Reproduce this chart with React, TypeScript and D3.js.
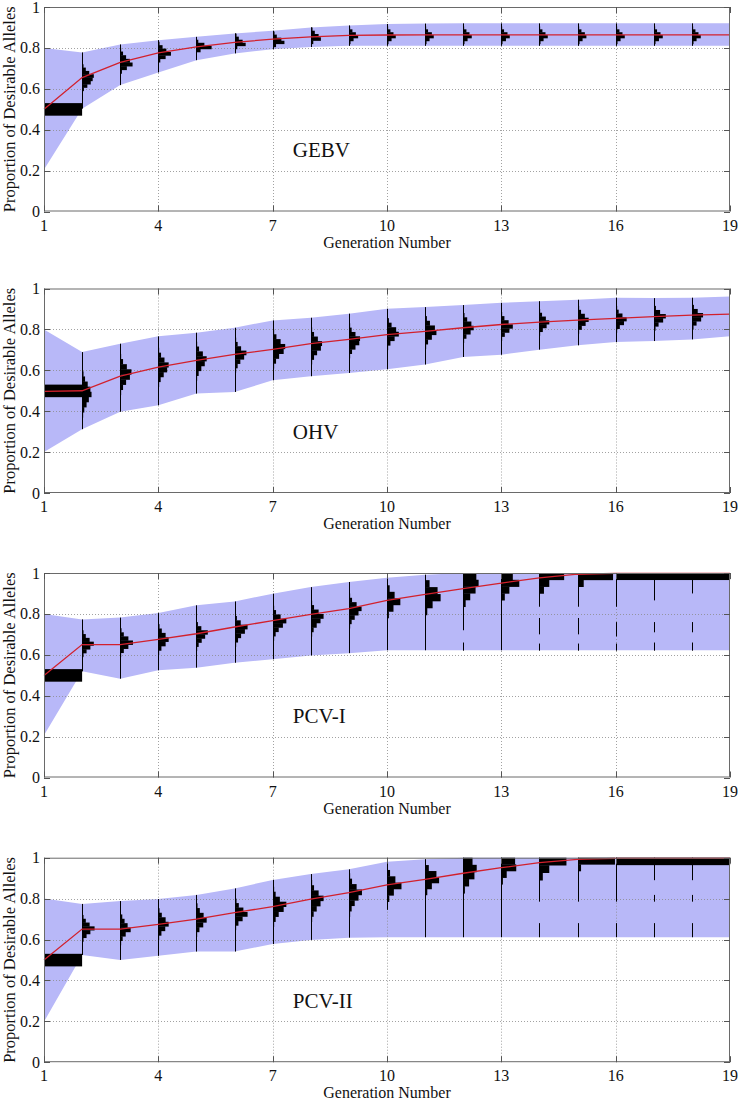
import React from 'react';
import * as d3 from 'd3';

const generations = [1, 2, 3, 4, 5, 6, 7, 8, 9, 10, 11, 12, 13, 14, 15, 16, 17, 18, 19];
const xTicks = [1, 4, 7, 10, 13, 16, 19];
const yTicks = [0, 0.2, 0.4, 0.6, 0.8, 1];
const yTickLabels = ['0', '0.2', '0.4', '0.6', '0.8', '1'];
const panelNames = ['GEBV', 'OHV', 'PCV-I', 'PCV-II'];
const xLabel = 'Generation Number';
const yLabel = 'Proportion of Desirable Alleles';

type Hist = { lo: number; hi: number; f: number[] };

// ---------- GEBV ----------
const gebvMean = [0.5, 0.655, 0.729, 0.776, 0.805, 0.827, 0.843, 0.854, 0.861, 0.863, 0.864, 0.864, 0.864, 0.864, 0.864, 0.864, 0.864, 0.864, 0.864];
const gebvUpper = [0.8, 0.778, 0.817, 0.838, 0.854, 0.871, 0.884, 0.9, 0.91, 0.917, 0.919, 0.92, 0.92, 0.92, 0.92, 0.92, 0.92, 0.92, 0.92];
const gebvLower = [0.205, 0.503, 0.618, 0.68, 0.74, 0.773, 0.794, 0.804, 0.81, 0.81, 0.81, 0.81, 0.81, 0.81, 0.81, 0.81, 0.81, 0.81, 0.81];
const gebvHist: Hist[] = [
  { lo: 0.47, hi: 0.53, f: [1] },
  { lo: 0.59, hi: 0.72, f: [0.05, 0.14, 0.23, 0.28, 0.31, 0.19, 0.1, 0.04] },
  { lo: 0.675, hi: 0.8, f: [0.05, 0.18, 0.33, 0.26, 0.16, 0.08, 0.03] },
  { lo: 0.73, hi: 0.83, f: [0.06, 0.2, 0.34, 0.22, 0.12, 0.04] },
  { lo: 0.78, hi: 0.84, f: [0.12, 0.41, 0.22, 0.06] },
  { lo: 0.795, hi: 0.87, f: [0.06, 0.28, 0.2, 0.1, 0.04] },
  { lo: 0.805, hi: 0.88, f: [0.08, 0.3, 0.22, 0.1, 0.04] },
  { lo: 0.82, hi: 0.9, f: [0.06, 0.26, 0.2, 0.1, 0.04] },
  { lo: 0.82, hi: 0.905, f: [0.04, 0.12, 0.24, 0.18, 0.09, 0.03] },
  { lo: 0.82, hi: 0.905, f: [0.04, 0.12, 0.23, 0.17, 0.09, 0.03] },
  { lo: 0.82, hi: 0.905, f: [0.04, 0.12, 0.23, 0.18, 0.08, 0.03] },
  { lo: 0.82, hi: 0.905, f: [0.04, 0.12, 0.23, 0.17, 0.09, 0.03] },
  { lo: 0.82, hi: 0.905, f: [0.04, 0.13, 0.23, 0.17, 0.08, 0.03] },
  { lo: 0.82, hi: 0.905, f: [0.04, 0.12, 0.23, 0.17, 0.09, 0.03] },
  { lo: 0.82, hi: 0.905, f: [0.04, 0.12, 0.22, 0.18, 0.09, 0.03] },
  { lo: 0.82, hi: 0.905, f: [0.04, 0.12, 0.23, 0.17, 0.09, 0.03] },
  { lo: 0.82, hi: 0.905, f: [0.04, 0.13, 0.23, 0.17, 0.08, 0.03] },
  { lo: 0.82, hi: 0.905, f: [0.04, 0.12, 0.23, 0.17, 0.09, 0.03] },
];
const gebvStems: Record<number, number[][]> = {};

// ---------- OHV ----------
const ohvMean = [0.497, 0.5, 0.571, 0.616, 0.649, 0.678, 0.702, 0.73, 0.751, 0.774, 0.79, 0.808, 0.824, 0.836, 0.845, 0.854, 0.862, 0.87, 0.875];
const ohvUpper = [0.8, 0.689, 0.73, 0.766, 0.784, 0.808, 0.844, 0.857, 0.877, 0.901, 0.909, 0.919, 0.93, 0.938, 0.945, 0.955, 0.953, 0.955, 0.961];
const ohvLower = [0.2, 0.312, 0.397, 0.429, 0.486, 0.494, 0.551, 0.571, 0.587, 0.605, 0.628, 0.665, 0.676, 0.701, 0.722, 0.738, 0.743, 0.751, 0.766];
const ohvHist: Hist[] = [
  { lo: 0.47, hi: 0.53, f: [1] },
  { lo: 0.37, hi: 0.62, f: [0.03, 0.06, 0.12, 0.18, 0.25, 0.22, 0.15, 0.08, 0.04, 0.02] },
  { lo: 0.48, hi: 0.68, f: [0.03, 0.08, 0.16, 0.26, 0.3, 0.18, 0.08, 0.03] },
  { lo: 0.52, hi: 0.71, f: [0.03, 0.07, 0.15, 0.24, 0.28, 0.17, 0.08, 0.03] },
  { lo: 0.55, hi: 0.74, f: [0.03, 0.07, 0.14, 0.23, 0.28, 0.18, 0.08, 0.03] },
  { lo: 0.59, hi: 0.76, f: [0.03, 0.07, 0.14, 0.24, 0.3, 0.16, 0.07, 0.03] },
  { lo: 0.61, hi: 0.8, f: [0.03, 0.08, 0.16, 0.28, 0.32, 0.2, 0.09, 0.03] },
  { lo: 0.63, hi: 0.81, f: [0.03, 0.08, 0.16, 0.26, 0.29, 0.18, 0.08, 0.03] },
  { lo: 0.66, hi: 0.83, f: [0.03, 0.08, 0.17, 0.27, 0.29, 0.17, 0.07, 0.03] },
  { lo: 0.7, hi: 0.855, f: [0.03, 0.09, 0.2, 0.31, 0.24, 0.12, 0.05] },
  { lo: 0.705, hi: 0.865, f: [0.03, 0.08, 0.18, 0.3, 0.26, 0.13, 0.05] },
  { lo: 0.735, hi: 0.88, f: [0.03, 0.09, 0.2, 0.28, 0.22, 0.11, 0.04] },
  { lo: 0.745, hi: 0.885, f: [0.03, 0.1, 0.22, 0.31, 0.2, 0.09, 0.03] },
  { lo: 0.77, hi: 0.9, f: [0.03, 0.1, 0.2, 0.27, 0.18, 0.08, 0.03] },
  { lo: 0.78, hi: 0.915, f: [0.03, 0.1, 0.2, 0.28, 0.18, 0.08, 0.03] },
  { lo: 0.785, hi: 0.915, f: [0.03, 0.1, 0.21, 0.28, 0.17, 0.07, 0.03] },
  { lo: 0.795, hi: 0.915, f: [0.04, 0.12, 0.24, 0.31, 0.16, 0.05] },
  { lo: 0.8, hi: 0.92, f: [0.04, 0.12, 0.24, 0.29, 0.15, 0.05] },
];
const ohvStems: Record<number, number[][]> = {};

// ---------- PCV-I ----------
const pcv1Mean = [0.499, 0.65, 0.65, 0.675, 0.703, 0.736, 0.767, 0.798, 0.826, 0.866, 0.896, 0.924, 0.951, 0.976, 0.994, 0.998, 0.998, 0.998, 0.998];
const pcv1Upper = [0.8, 0.773, 0.782, 0.804, 0.842, 0.861, 0.899, 0.931, 0.956, 0.977, 0.992, 1, 1, 1, 1, 1, 1, 1, 1];
const pcv1Lower = [0.206, 0.519, 0.483, 0.524, 0.537, 0.561, 0.578, 0.597, 0.608, 0.622, 0.622, 0.622, 0.622, 0.622, 0.622, 0.622, 0.622, 0.622, 0.622];
const pcv1Hist: Hist[] = [
  { lo: 0.47, hi: 0.53, f: [1] },
  { lo: 0.59, hi: 0.72, f: [0.04, 0.12, 0.22, 0.31, 0.2, 0.1, 0.04] },
  { lo: 0.59, hi: 0.73, f: [0.03, 0.1, 0.22, 0.34, 0.22, 0.1, 0.04] },
  { lo: 0.6, hi: 0.75, f: [0.03, 0.09, 0.2, 0.28, 0.2, 0.1, 0.04] },
  { lo: 0.62, hi: 0.76, f: [0.03, 0.07, 0.15, 0.24, 0.31, 0.14, 0.05] },
  { lo: 0.64, hi: 0.79, f: [0.03, 0.08, 0.16, 0.26, 0.33, 0.15, 0.05] },
  { lo: 0.67, hi: 0.84, f: [0.03, 0.07, 0.15, 0.26, 0.35, 0.2, 0.08, 0.03] },
  { lo: 0.69, hi: 0.865, f: [0.03, 0.07, 0.15, 0.25, 0.33, 0.2, 0.08, 0.03] },
  { lo: 0.73, hi: 0.9, f: [0.03, 0.07, 0.15, 0.25, 0.33, 0.2, 0.08, 0.03] },
  { lo: 0.78, hi: 0.94, f: [0.05, 0.17, 0.35, 0.2, 0.07] },
  { lo: 0.795, hi: 0.965, f: [0.06, 0.2, 0.41, 0.33, 0.12] },
  { lo: 0.835, hi: 1.0, f: [0.07, 0.19, 0.33, 0.41, 0.35] },
  { lo: 0.867, hi: 1.0, f: [0.1, 0.22, 0.48, 0.31] },
  { lo: 0.9, hi: 1.0, f: [0.13, 0.27, 0.66] },
  { lo: 0.933, hi: 1.0, f: [0.15, 0.92] },
  { lo: 0.967, hi: 1.0, f: [1] },
  { lo: 0.967, hi: 1.0, f: [1] },
  { lo: 0.967, hi: 1.0, f: [1] },
];
const pcv1Stems: Record<number, number[][]> = {
  12: [[0.72, 1.0], [0.62, 0.66]],
  14: [[0.835, 1.0], [0.7, 0.78], [0.62, 0.655]],
  15: [[0.835, 1.0], [0.7, 0.78], [0.62, 0.655]],
  16: [[0.835, 1.0], [0.69, 0.76], [0.62, 0.655]],
  17: [[0.866, 1.0], [0.71, 0.76], [0.62, 0.66]],
  18: [[0.9, 1.0], [0.71, 0.76], [0.62, 0.66]],
};

// ---------- PCV-II ----------
const pcv2Mean = [0.5, 0.651, 0.651, 0.674, 0.7, 0.731, 0.761, 0.797, 0.829, 0.867, 0.894, 0.924, 0.951, 0.976, 0.992, 0.997, 0.997, 0.997, 0.997];
const pcv2Upper = [0.8, 0.774, 0.788, 0.798, 0.818, 0.85, 0.891, 0.92, 0.943, 0.98, 0.993, 1, 1, 1, 1, 1, 1, 1, 1];
const pcv2Lower = [0.198, 0.524, 0.5, 0.52, 0.541, 0.541, 0.578, 0.598, 0.609, 0.611, 0.611, 0.611, 0.611, 0.611, 0.611, 0.611, 0.611, 0.611, 0.611];
const pcv2Hist: Hist[] = [
  { lo: 0.47, hi: 0.53, f: [1] },
  { lo: 0.59, hi: 0.72, f: [0.04, 0.12, 0.22, 0.33, 0.2, 0.1, 0.04] },
  { lo: 0.573, hi: 0.744, f: [0.03, 0.07, 0.15, 0.28, 0.2, 0.12, 0.06, 0.02] },
  { lo: 0.598, hi: 0.753, f: [0.03, 0.09, 0.19, 0.28, 0.2, 0.1, 0.04] },
  { lo: 0.614, hi: 0.777, f: [0.03, 0.09, 0.19, 0.28, 0.2, 0.1, 0.04] },
  { lo: 0.647, hi: 0.8, f: [0.03, 0.09, 0.2, 0.33, 0.22, 0.1, 0.04] },
  { lo: 0.663, hi: 0.858, f: [0.03, 0.07, 0.15, 0.28, 0.35, 0.18, 0.07, 0.03] },
  { lo: 0.687, hi: 0.891, f: [0.03, 0.07, 0.15, 0.25, 0.33, 0.2, 0.08, 0.03] },
  { lo: 0.712, hi: 0.924, f: [0.03, 0.07, 0.15, 0.25, 0.34, 0.2, 0.08, 0.03] },
  { lo: 0.785, hi: 0.94, f: [0.06, 0.18, 0.38, 0.22, 0.08] },
  { lo: 0.818, hi: 0.964, f: [0.06, 0.18, 0.37, 0.3, 0.1] },
  { lo: 0.826, hi: 1.0, f: [0.05, 0.16, 0.3, 0.36, 0.25] },
  { lo: 0.87, hi: 1.0, f: [0.05, 0.15, 0.4, 0.37] },
  { lo: 0.89, hi: 1.0, f: [0.1, 0.27, 0.72] },
  { lo: 0.935, hi: 1.0, f: [0.08, 0.97] },
  { lo: 0.965, hi: 1.0, f: [1] },
  { lo: 0.965, hi: 1.0, f: [1] },
  { lo: 0.965, hi: 1.0, f: [1] },
];
const pcv2Stems: Record<number, number[][]> = {
  10: [[0.745, 0.98]],
  14: [[0.785, 1.0], [0.611, 0.68]],
  15: [[0.785, 1.0], [0.611, 0.68]],
  16: [[0.785, 1.0], [0.611, 0.68]],
  17: [[0.89, 1.0], [0.785, 0.818], [0.611, 0.68]],
  18: [[0.89, 1.0], [0.785, 0.818], [0.611, 0.68]],
};

const panels = [
  { name: panelNames[0], mean: gebvMean, upper: gebvUpper, lower: gebvLower, hist: gebvHist, stems: gebvStems },
  { name: panelNames[1], mean: ohvMean, upper: ohvUpper, lower: ohvLower, hist: ohvHist, stems: ohvStems },
  { name: panelNames[2], mean: pcv1Mean, upper: pcv1Upper, lower: pcv1Lower, hist: pcv1Hist, stems: pcv1Stems },
  { name: panelNames[3], mean: pcv2Mean, upper: pcv2Upper, lower: pcv2Lower, hist: pcv2Hist, stems: pcv2Stems },
];

const W = 740;
const H = 1102;
const LEFT = 44;
const RIGHT = 730;
const PANEL_TOPS = [7, 288.5, 573, 857.7];
const PANEL_H = 204.5;
const FONT = '"Liberation Serif", "Times New Roman", serif';
const BAND = '#b8b8f8';
const RED = '#d2202c';

function Panel({ p, top }: { p: typeof panels[number]; top: number }) {
  const x = d3.scaleLinear().domain([1, 19]).range([LEFT, RIGHT]);
  const y = d3.scaleLinear().domain([0, 1]).range([top + PANEL_H, top]);
  const step = x(2) - x(1);
  const bottom = top + PANEL_H;

  const area = d3
    .area<number>()
    .x((g) => x(g))
    .y0((_, i) => y(p.lower[i]))
    .y1((_, i) => y(p.upper[i]));
  const line = d3
    .line<number>()
    .x((g) => x(g))
    .y((_, i) => y(p.mean[i]));

  const gridX = xTicks.filter((t) => t !== 1 && t !== 19);
  const gridY = yTicks.filter((t) => t !== 0 && t !== 1);

  return (
    <g>
      <path d={area(generations) || ''} fill={BAND} stroke="none" />
      {gridX.map((t) => (
        <line key={'gx' + t} x1={Math.round(x(t)) + 0.5} x2={Math.round(x(t)) + 0.5} y1={top} y2={bottom} stroke="#8a8a8a" strokeWidth={0.8} strokeDasharray="1,2" />
      ))}
      {gridY.map((t) => (
        <line key={'gy' + t} x1={LEFT} x2={RIGHT} y1={Math.round(y(t)) + 0.5} y2={Math.round(y(t)) + 0.5} stroke="#8a8a8a" strokeWidth={0.8} strokeDasharray="1,2" />
      ))}
      {generations.slice(1, 18).map((g, idx) => {
        const i = idx + 1;
        const segs = p.stems[g] || [[p.lower[i], p.upper[i]]];
        const xs = Math.round(x(g)) + 0.5;
        return segs.map((s, k) => (
          <line key={'st' + g + '_' + k} x1={xs} x2={xs} y1={y(s[0])} y2={y(s[1])} stroke="#000" strokeWidth={1} />
        ));
      })}
      {p.hist.map((h, i) => {
        const g = generations[i];
        const bw = (h.hi - h.lo) / h.f.length;
        const x0 = Math.round(x(g));
        return h.f.map((f, k) => {
          if (f <= 0) return null;
          const yTop = y(h.lo + (k + 1) * bw);
          const yBot = y(h.lo + k * bw);
          return (
            <rect key={'h' + g + '_' + k} x={x0} y={yTop} width={Math.max(1, f * step)} height={yBot - yTop + 0.3} fill="#000" />
          );
        });
      })}
      <path d={line(generations) || ''} fill="none" stroke={RED} strokeWidth={1.3} />
      <rect x={LEFT + 0.5} y={top + 0.5} width={RIGHT - LEFT - 1} height={PANEL_H - 1} fill="none" stroke="#6a6a6a" strokeWidth={1} />
      {xTicks.map((t) => (
        <g key={'xt' + t}>
          <line x1={Math.round(x(t)) + 0.5} x2={Math.round(x(t)) + 0.5} y1={bottom} y2={bottom - 6} stroke="#555" />
          <line x1={Math.round(x(t)) + 0.5} x2={Math.round(x(t)) + 0.5} y1={top} y2={top + 6} stroke="#555" />
          <text x={x(t)} y={bottom + 19} textAnchor="middle" fontFamily={FONT} fontSize={16} fill="#111">
            {t}
          </text>
        </g>
      ))}
      {yTicks.map((t, i) => (
        <g key={'yt' + t}>
          <line x1={LEFT} x2={LEFT + 6} y1={Math.round(y(t)) + 0.5} y2={Math.round(y(t)) + 0.5} stroke="#555" />
          <line x1={RIGHT} x2={RIGHT - 6} y1={Math.round(y(t)) + 0.5} y2={Math.round(y(t)) + 0.5} stroke="#555" />
          <text x={40} y={y(t) + 5.5} textAnchor="end" fontFamily={FONT} fontSize={16} fill="#111">
            {yTickLabels[i]}
          </text>
        </g>
      ))}
      <text x={(LEFT + RIGHT) / 2} y={bottom + 36} textAnchor="middle" fontFamily={FONT} fontSize={16} fill="#111">
        {xLabel}
      </text>
      <text transform={`translate(15,${top + PANEL_H / 2}) rotate(-90)`} textAnchor="middle" fontFamily={FONT} fontSize={16.5} fill="#111">
        {yLabel}
      </text>
      <text x={x(7.53)} y={y(0.265)} fontFamily={FONT} fontSize={21} fill="#111">
        {p.name}
      </text>
    </g>
  );
}

export default function App() {
  return (
    <svg width={W} height={H} viewBox={`0 0 ${W} ${H}`} style={{ position: 'absolute', left: 0, top: 0, background: '#fff' }}>
      <rect x={0} y={0} width={W} height={H} fill="#fff" />
      {panels.map((p, i) => (
        <Panel key={p.name} p={p} top={PANEL_TOPS[i]} />
      ))}
    </svg>
  );
}
